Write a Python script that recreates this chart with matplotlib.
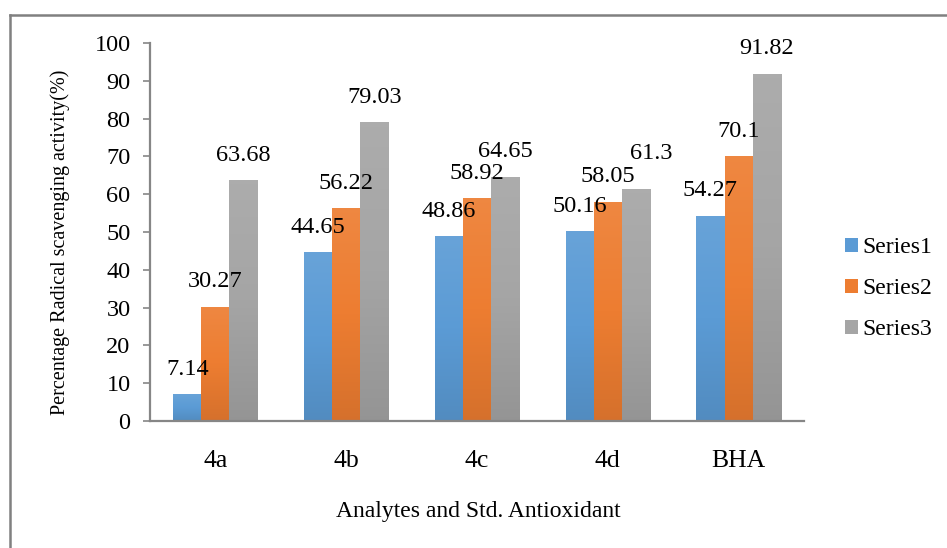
import numpy as np
import matplotlib
matplotlib.use("Agg")
import matplotlib.pyplot as plt
from matplotlib.lines import Line2D
from matplotlib.colors import LinearSegmentedColormap, to_rgb

# ---- data -------------------------------------------------------------
categories = ["4a", "4b", "4c", "4d", "BHA"]
series_names = ["Series1", "Series2", "Series3"]
series1 = [7.14, 44.65, 48.86, 50.16, 54.27]
series2 = [30.27, 56.22, 58.92, 58.05, 70.1]
series3 = [63.68, 79.03, 64.65, 61.3, 91.82]
y_ticks = list(range(0, 101, 10))
x_title = "Analytes and Std. Antioxidant"
y_title = "Percentage Radical scavenging activity(%)"

# ---- style ------------------------------------------------------------
plt.rcParams["font.family"] = ["Liberation Serif", "DejaVu Serif"]
base_colors = ["#5B9BD5", "#ED7D31", "#A5A5A5"]
axis_gray = "#868686"

W, H, DPI = 947, 548, 100
fig = plt.figure(figsize=(W / DPI, H / DPI), dpi=DPI)
ax = fig.add_axes([150 / W, 1 - 421 / H, (804 - 150) / W, (421 - 43) / H])

x = np.arange(len(categories))
bar_w = 0.215
offsets = [-bar_w, 0.0, bar_w]
all_series = [series1, series2, series3]


def shade(c, f):
    r, g, b = to_rgb(c)
    if f >= 0:
        return (r + (1 - r) * f, g + (1 - g) * f, b + (1 - b) * f)
    return (r * (1 + f), g * (1 + f), b * (1 + f))


# gradient-filled bars
for vals, off, col, name in zip(all_series, offsets, base_colors, series_names):
    bars = ax.bar(x + off, vals, bar_w, color=col, label=name, zorder=2,
                  linewidth=0)
    cmap = LinearSegmentedColormap.from_list(
        name, [shade(col, -0.10), shade(col, 0.0), shade(col, 0.08)])
    grad = np.linspace(0, 1, 256).reshape(-1, 1)
    for b in bars:
        x0, y0 = b.get_x(), b.get_y()
        w, h = b.get_width(), b.get_height()
        im = ax.imshow(grad, cmap=cmap, origin="lower", aspect="auto",
                       extent=(x0, x0 + w, y0, y0 + h), zorder=2.5,
                       interpolation="bilinear")
        im.set_clip_path(b)

# value labels above bars (a few nudged where they crowd)
nudge = {(2, 3): (11, 8)}
for si, (vals, off) in enumerate(zip(all_series, offsets)):
    for ci, v in enumerate(vals):
        dx, dy = nudge.get((si, ci), (0, 0))
        ax.annotate(f"{v:g}", (x[ci] + off, v), xytext=(dx, 18 + dy),
                    textcoords="offset points", ha="center", va="center",
                    fontsize=17.5, color="black", zorder=5)

ax.set_xlim(-0.5, len(categories) - 0.5)
ax.set_ylim(0, 100)
ax.set_yticks(y_ticks)
ax.set_xticks(x)
ax.set_xticklabels(categories)

for s in ["top", "right"]:
    ax.spines[s].set_visible(False)
for s in ["left", "bottom"]:
    ax.spines[s].set_color(axis_gray)
    ax.spines[s].set_linewidth(1.6)
ax.tick_params(axis="y", length=5, width=1.2, color=axis_gray, pad=9,
               labelsize=17.5)
ax.tick_params(axis="x", length=0, pad=21, labelsize=18.5)

fig.text(478 / W, 1 - 512 / H, x_title, ha="center", va="center",
         fontsize=17)
fig.text(60 / W, 1 - 242 / H, y_title, ha="center", va="center",
         rotation=90, fontsize=14.5)

leg = ax.legend(loc="center left", bbox_to_anchor=(1.03, 0.35),
                frameon=False, fontsize=17, handlelength=0.55,
                handleheight=0.55, handletextpad=0.2, labelspacing=0.85)

# outer chart frame
frame_kw = dict(color="#808080", linewidth=1.8, transform=fig.transFigure)
fig.add_artist(Line2D([10 / W, 10 / W], [0, 1 - 15 / H], **frame_kw))
fig.add_artist(Line2D([10 / W, 1], [1 - 15 / H, 1 - 15 / H], **frame_kw))

fig.savefig("out.png", dpi=DPI)
